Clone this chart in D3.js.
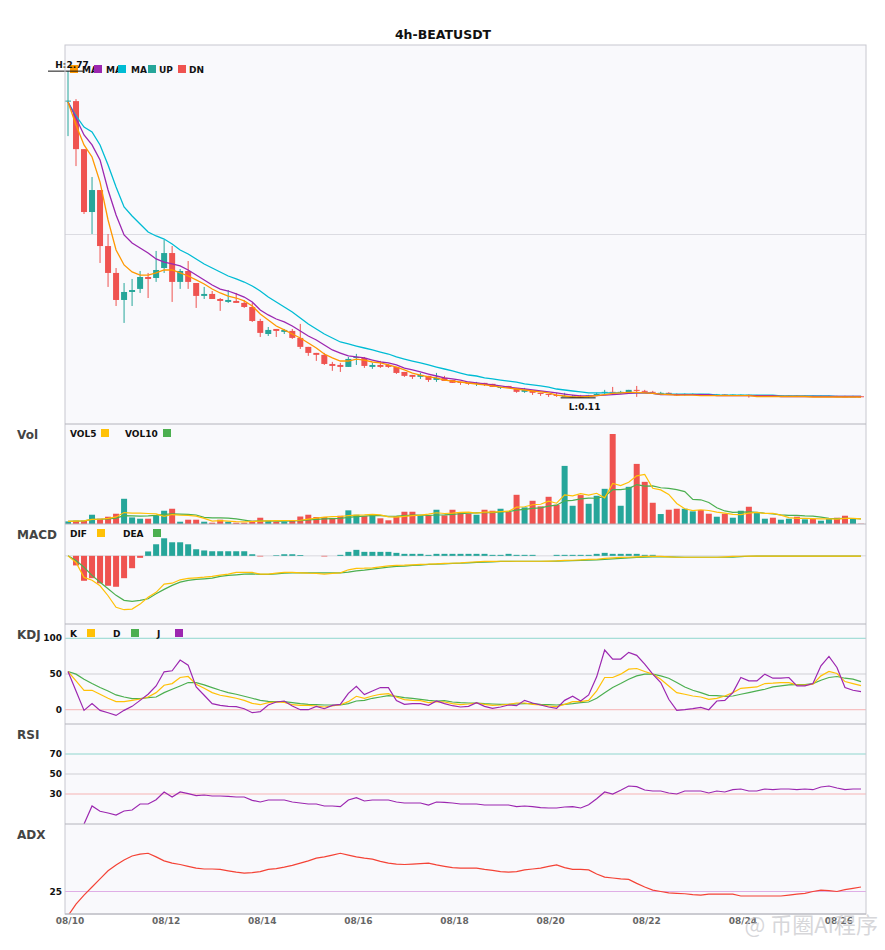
<!DOCTYPE html>
<html>
<head>
<meta charset="utf-8">
<script src="https://cdn.jsdelivr.net/npm/d3@7"></script>
<style>
  body { margin: 0; background: #fff; }
  svg { display: block; font-family: "DejaVu Sans", sans-serif; }
</style>
</head>
<body>
<svg id="chart"></svg>
<script>
const title = '4h-BEATUSDT';
const dateTicks = ['08/10', '08/12', '08/14', '08/16', '08/18', '08/20', '08/22', '08/24', '08/26'];

// 4h candles
const open = [2.526,2.526,2.135,1.623,1.802,1.346,1.127,0.907,0.972,0.997,1.094,1.086,1.167,1.289,1.054,1.143,1.045,0.940,0.956,0.915,
  0.891,0.899,0.883,0.850,0.736,0.630,0.671,0.647,0.655,0.598,0.525,0.476,0.460,0.386,0.378,0.362,0.435,0.435,0.362,0.378,
  0.378,0.362,0.321,0.297,0.281,0.289,0.256,0.273,0.256,0.240,0.232,0.224,0.232,0.224,0.191,0.207,0.191,0.159,0.167,0.151,
  0.142,0.134,0.118,0.118,0.122,0.118,0.130,0.151,0.159,0.151,0.151,0.175,0.167,0.159,0.146,0.151,0.138,0.134,0.138,0.142,
  0.138,0.134,0.138,0.128,0.132,0.135,0.128,0.128,0.130,0.126,0.126,0.127,0.124,0.126,0.123,0.124,0.125,0.123,0.121,0.123];
const high = [2.770,2.542,2.135,1.908,1.802,1.444,1.167,1.045,1.078,1.143,1.127,1.306,1.395,1.346,1.159,1.224,1.045,1.013,0.980,0.923,
  0.988,0.964,0.907,0.883,0.753,0.687,0.671,0.671,0.671,0.712,0.525,0.476,0.476,0.403,0.395,0.443,0.468,0.443,0.395,0.411,
  0.386,0.362,0.321,0.297,0.313,0.289,0.313,0.289,0.256,0.240,0.232,0.240,0.232,0.224,0.199,0.207,0.191,0.191,0.167,0.151,
  0.142,0.151,0.151,0.134,0.134,0.134,0.151,0.175,0.199,0.167,0.175,0.207,0.175,0.167,0.159,0.155,0.146,0.146,0.146,0.142,
  0.142,0.142,0.140,0.138,0.138,0.138,0.134,0.132,0.132,0.130,0.130,0.130,0.129,0.128,0.128,0.128,0.127,0.127,0.127,0.126];
const low = [2.241,1.997,1.607,1.444,1.208,1.013,0.858,0.720,0.858,0.964,0.923,1.054,1.127,0.891,0.997,0.997,0.842,0.915,0.915,0.818,
  0.883,0.883,0.842,0.728,0.606,0.614,0.606,0.630,0.590,0.508,0.452,0.411,0.378,0.330,0.321,0.362,0.378,0.354,0.346,0.354,
  0.354,0.305,0.281,0.264,0.264,0.240,0.240,0.248,0.232,0.216,0.216,0.207,0.207,0.199,0.183,0.191,0.151,0.151,0.134,0.126,
  0.118,0.118,0.118,0.114,0.110,0.114,0.126,0.134,0.142,0.142,0.142,0.118,0.151,0.142,0.138,0.134,0.126,0.130,0.134,0.130,
  0.130,0.130,0.128,0.126,0.126,0.112,0.124,0.124,0.124,0.122,0.122,0.123,0.122,0.122,0.121,0.121,0.120,0.121,0.120,0.119];
const close = [2.530,2.135,1.623,1.802,1.346,1.127,0.907,0.972,0.988,1.094,1.078,1.151,1.289,1.054,1.143,1.054,0.940,0.956,0.915,0.899,
  0.907,0.883,0.850,0.736,0.639,0.663,0.655,0.663,0.598,0.525,0.476,0.460,0.386,0.370,0.362,0.427,0.443,0.370,0.378,0.362,
  0.362,0.313,0.289,0.281,0.297,0.256,0.273,0.248,0.232,0.232,0.224,0.232,0.216,0.199,0.199,0.191,0.159,0.175,0.151,0.142,
  0.134,0.126,0.126,0.122,0.116,0.130,0.142,0.159,0.151,0.159,0.175,0.167,0.159,0.151,0.151,0.138,0.134,0.142,0.142,0.136,
  0.134,0.138,0.132,0.136,0.135,0.128,0.130,0.130,0.127,0.128,0.127,0.125,0.126,0.124,0.125,0.125,0.123,0.122,0.123,0.121];
const volume = [0.26,0.33,0.33,0.93,0.53,0.73,1.03,2.53,0.66,0.53,0.53,0.83,1.33,1.53,0.23,0.43,0.43,0.23,0.13,0.43,
  0.23,0.13,0.13,0.33,0.63,0.33,0.23,0.23,0.33,0.75,0.93,0.70,0.70,0.60,0.83,1.37,0.93,0.80,0.90,0.57,
  0.37,0.77,1.23,1.23,0.87,0.87,1.43,0.87,1.43,1.20,1.03,0.93,1.43,1.33,1.53,1.20,2.93,1.67,2.33,1.77,
  2.73,1.93,5.83,1.83,2.90,2.03,2.83,3.53,9.03,1.83,3.73,6.03,4.23,2.13,1.00,1.43,1.53,1.53,1.27,1.40,
  1.03,0.73,1.03,0.63,1.33,1.73,1.10,0.53,0.63,0.43,0.53,0.73,0.47,0.50,0.33,0.53,0.63,0.83,0.53,0.03];

// moving average lines (orange, purple, cyan)
const maFast = [2.519,2.332,2.169,2.071,1.867,1.558,1.314,1.192,1.135,1.110,1.110,1.127,1.151,1.151,1.127,1.102,1.070,1.037,0.996,0.964,
  0.939,0.923,0.899,0.858,0.793,0.744,0.695,0.663,0.630,0.597,0.557,0.516,0.467,0.435,0.410,0.410,0.426,0.418,0.402,0.394,
  0.378,0.361,0.337,0.312,0.296,0.280,0.272,0.255,0.247,0.239,0.231,0.223,0.215,0.207,0.198,0.190,0.182,0.174,0.166,0.158,
  0.150,0.133,0.125,0.117,0.117,0.121,0.129,0.137,0.146,0.150,0.154,0.154,0.150,0.146,0.141,0.137,0.133,0.133,0.133,0.129,
  0.129,0.129,0.129,0.129,0.129,0.129,0.121,0.121,0.121,0.121,0.121,0.121,0.121,0.117,0.117,0.117,0.117,0.117,0.117,0.117];
const maMid = [2.519,2.389,2.250,2.169,2.047,1.802,1.599,1.436,1.371,1.330,1.289,1.241,1.216,1.200,1.184,1.151,1.110,1.070,1.029,0.996,
  0.980,0.956,0.931,0.891,0.825,0.785,0.752,0.728,0.695,0.654,0.614,0.581,0.540,0.500,0.475,0.451,0.443,0.435,0.418,0.402,
  0.394,0.378,0.353,0.337,0.321,0.304,0.288,0.272,0.264,0.255,0.239,0.231,0.223,0.215,0.207,0.198,0.190,0.182,0.174,0.166,
  0.158,0.150,0.141,0.133,0.125,0.125,0.129,0.133,0.137,0.141,0.146,0.150,0.150,0.146,0.137,0.137,0.137,0.137,0.137,0.137,
  0.137,0.129,0.129,0.129,0.129,0.129,0.129,0.129,0.129,0.121,0.121,0.121,0.121,0.121,0.121,0.121,0.121,0.121,0.121,0.121];
const maSlow = [2.519,2.405,2.315,2.275,2.169,2.006,1.827,1.664,1.591,1.526,1.460,1.428,1.403,1.363,1.314,1.281,1.241,1.200,1.167,1.135,
  1.102,1.078,1.053,1.021,0.980,0.931,0.891,0.850,0.809,0.760,0.711,0.671,0.630,0.597,0.565,0.549,0.532,0.516,0.500,0.483,
  0.467,0.443,0.426,0.410,0.394,0.378,0.361,0.345,0.329,0.312,0.296,0.288,0.272,0.264,0.255,0.247,0.239,0.223,0.215,0.207,
  0.198,0.182,0.174,0.166,0.158,0.150,0.150,0.150,0.150,0.150,0.150,0.150,0.150,0.146,0.141,0.141,0.141,0.141,0.141,0.141,
  0.141,0.133,0.133,0.133,0.133,0.133,0.133,0.133,0.133,0.125,0.125,0.125,0.125,0.125,0.125,0.125,0.121,0.121,0.121,0.121];

// indicator series
const dif = [0,-0.033,-0.108,-0.122,-0.150,-0.200,-0.258,-0.270,-0.267,-0.242,-0.208,-0.183,-0.142,-0.137,-0.120,-0.113,-0.110,-0.107,-0.103,-0.097,
  -0.092,-0.083,-0.083,-0.083,-0.092,-0.092,-0.087,-0.083,-0.083,-0.085,-0.087,-0.088,-0.092,-0.088,-0.085,-0.070,-0.063,-0.062,-0.060,-0.055,
  -0.050,-0.048,-0.047,-0.045,-0.043,-0.042,-0.040,-0.038,-0.037,-0.035,-0.032,-0.030,-0.028,-0.028,-0.027,-0.027,-0.027,-0.027,-0.027,-0.027,
  -0.026,-0.025,-0.023,-0.022,-0.020,-0.018,-0.017,-0.013,-0.010,-0.008,-0.007,-0.005,-0.003,-0.002,-0.003,-0.005,-0.007,-0.007,-0.007,-0.007,
  -0.007,-0.007,-0.005,-0.003,-0.002,-0.001,-0.001,-0.001,-0.001,-0.001,-0.001,-0.001,-0.001,-0.001,-0.001,-0.001,-0.001,-0.001,-0.001,-0.001];
const dea = [0,-0.023,-0.057,-0.098,-0.132,-0.165,-0.198,-0.223,-0.228,-0.223,-0.215,-0.190,-0.168,-0.148,-0.132,-0.123,-0.118,-0.115,-0.112,-0.103,
  -0.098,-0.095,-0.092,-0.090,-0.093,-0.093,-0.090,-0.087,-0.085,-0.085,-0.085,-0.085,-0.085,-0.085,-0.085,-0.082,-0.075,-0.072,-0.067,-0.062,
  -0.057,-0.053,-0.052,-0.048,-0.047,-0.043,-0.042,-0.040,-0.038,-0.037,-0.035,-0.033,-0.032,-0.030,-0.028,-0.028,-0.027,-0.027,-0.027,-0.027,
  -0.027,-0.026,-0.025,-0.024,-0.023,-0.021,-0.020,-0.018,-0.015,-0.013,-0.010,-0.008,-0.007,-0.005,-0.005,-0.005,-0.006,-0.007,-0.007,-0.007,
  -0.007,-0.007,-0.007,-0.007,-0.004,-0.002,-0.001,-0.001,-0.001,-0.001,-0.001,-0.001,-0.001,-0.001,-0.001,-0.001,-0.001,-0.001,-0.001,-0.001];
const macdHist = [0,-0.048,-0.125,-0.112,-0.138,-0.150,-0.155,-0.112,-0.062,-0.010,0.022,0.058,0.088,0.068,0.068,0.058,0.033,0.027,0.023,0.023,
  0.023,0.023,0.023,0.008,-0.003,0,0.003,0.008,0.008,0.004,0,0,-0.003,0,0.005,0.020,0.030,0.020,0.020,0.020,
  0.020,0.015,0.010,0.010,0.010,0.005,0.010,0.010,0.010,0.010,0.010,0.010,0.010,0.005,0.005,0.010,0.005,0.005,0.005,0,
  0,0.005,0.005,0.005,0.005,0.005,0.010,0.015,0.010,0.010,0.010,0.010,0.005,0.005,0,0,0,0,0,0,
  0,0,0,0,0,0,0,0,0,0,0,0,0,0,0,0,0,0,0,0];
const kLine = [53.5,40.4,27.2,27.2,21.6,16.0,11.3,11.3,13.1,15.0,17.8,23.9,34.3,36.6,45.1,46.5,35.7,30.0,23.9,20.2,
  18.3,16.0,13.1,8.9,7.0,9.9,10.8,10.3,7.0,6.1,6.1,5.2,3.8,5.2,7.0,11.3,18.8,16.0,19.2,21.6,
  22.5,17.8,14.1,13.1,12.7,9.9,11.3,10.8,8.5,7.0,8.0,9.4,7.5,6.1,6.6,7.5,9.4,9.4,7.5,6.6,
  5.2,4.2,7.5,11.3,11.3,13.1,26.3,45.1,45.1,49.8,56.8,57.7,53.5,49.8,42.7,33.3,23.9,21.6,19.2,17.8,
  14.6,16.0,19.2,23.9,30.0,31.0,31.9,36.6,37.1,38.0,38.0,34.7,34.3,35.7,47.4,53.5,50.7,39.4,36.6,33.8];
const dLine = [53.5,49.8,42.7,36.6,31.0,26.3,20.7,17.8,15.5,15.5,16.9,17.8,23.9,28.6,33.3,38.0,38.0,34.7,31.0,27.2,
  23.9,21.6,18.8,16.0,13.1,11.7,11.3,11.3,9.9,8.5,7.5,7.0,6.6,6.6,6.6,8.5,12.2,13.1,16.0,17.8,
  19.7,18.8,16.9,16.0,14.6,13.1,12.2,12.7,10.8,9.9,9.4,9.4,8.5,8.0,7.5,7.5,8.0,8.5,8.5,7.5,
  7.0,6.6,7.5,8.5,9.9,10.8,16.0,23.9,31.0,36.6,42.7,47.4,49.8,49.8,47.4,44.1,38.0,31.9,27.2,23.9,
  20.2,19.7,18.8,19.2,21.6,23.9,26.3,28.6,31.9,33.3,34.7,35.2,35.2,36.6,41.3,45.1,46.5,44.1,42.7,39.4];
const jLine = [53.5,26.3,-0.9,8.5,-0.9,-4.2,-8.0,-0.9,4.7,13.1,21.6,33.3,53.1,54.5,69.5,62.4,31.9,20.2,8.5,6.1,
  4.7,4.2,1.4,-4.2,-2.8,6.6,10.8,12.2,5.2,0,0,4.7,1.4,6.1,7.5,23.0,32.9,21.1,26.3,31.0,
  31.0,12.7,7.5,8.5,8.5,6.1,12.2,8.5,5.6,3.8,4.7,9.9,4.7,1.9,3.8,6.6,5.6,13.1,9.4,6.6,
  3.8,1.9,13.1,18.8,12.2,20.7,46.0,83.6,70.9,70.9,80.3,76.1,63.8,49.8,38.0,14.6,-0.9,0,1.4,3.3,
  0,12.2,13.1,23.9,45.1,40.4,40.4,49.8,44.1,44.1,45.1,33.3,33.3,36.6,61.5,74.6,59.2,31.0,27.2,25.4];
const rsi = [null,null,0,18.0,12.7,11.0,9.0,13.0,14.0,20.0,20.0,24.3,32.0,27.0,32.0,30.3,28.3,29.0,28.0,28.0,
  27.7,27.0,27.0,23.7,22.0,24.0,24.0,24.0,22.0,21.0,20.0,20.0,18.0,18.0,17.3,24.0,26.3,23.0,24.0,24.0,
  24.0,22.0,21.0,21.0,21.0,19.0,22.0,21.7,21.0,20.0,20.0,20.0,19.0,19.0,19.0,19.0,17.3,18.0,17.3,16.3,
  16.0,16.0,17.0,17.3,16.0,19.3,25.3,32.0,30.0,33.7,38.0,37.3,34.0,33.0,33.0,31.0,30.0,33.0,33.0,33.0,
  31.0,33.0,32.0,34.3,35.0,33.0,33.0,35.0,34.3,35.0,35.0,34.3,35.0,34.3,37.0,38.0,36.0,34.3,35.0,35.0];
const adx = [19.6,22.2,24.2,26.0,27.8,29.6,30.9,32.0,32.9,33.3,33.5,32.7,31.8,31.3,31.0,30.6,30.2,30.0,30.0,29.9,
  29.6,29.3,29.1,29.2,29.4,29.9,30.1,30.4,30.8,31.3,31.8,32.4,32.7,33.1,33.5,33.1,32.7,32.4,32.2,31.7,
  31.3,31.1,31.0,31.1,31.2,31.3,30.9,30.6,30.3,30.2,30.2,30.2,29.9,29.7,29.4,29.3,29.4,29.8,30.0,30.2,
  30.6,30.9,30.3,29.9,29.9,29.8,28.9,28.2,28.0,27.8,27.7,26.8,26.0,25.3,25.0,24.7,24.6,24.5,24.3,24.2,
  24.4,24.4,24.4,24.4,24.0,24.0,24.0,24.0,24.0,24.0,24.2,24.4,24.6,25.0,25.3,25.2,25.0,25.4,25.7,26.0];

const W = 885, H = 950;
const left = 65, right = 866;
const UP = '#26a69a', DN = '#ef5350';

// simple moving average for the volume lines, partial window at the start
const sma = (arr, n) => arr.map((_, i) => d3.mean(arr.slice(Math.max(0, i - n + 1), i + 1)));

const svg = d3.select('#chart').attr('width', W).attr('height', H);

const x = d3.scaleBand().domain(d3.range(close.length)).range([64, 865]);
const cx = i => x(i) + x.bandwidth() / 2;
const barW = 6;
const isUp = i => close[i] >= open[i];

let clipId = 0;
const panel = (top, bottom, label) => {
  svg.append('rect')
    .attr('x', left).attr('y', top)
    .attr('width', right - left).attr('height', bottom - top)
    .attr('fill', '#f9f9fc');
  const id = 'clip' + (clipId++);
  svg.append('clipPath').attr('id', id)
    .append('rect').attr('x', left).attr('y', top)
    .attr('width', right - left).attr('height', bottom - top);
  if (label) {
    svg.append('text').attr('x', 17).attr('y', top + 15)
      .attr('font-size', 12).attr('font-weight', 'bold').attr('fill', '#444')
      .text(label);
  }
  return svg.append('g').attr('clip-path', `url(#${id})`);
};

const legend = (g, items, y) => {
  items.forEach(it => {
    if (it.color) {
      g.append('rect').attr('x', it.sq).attr('y', y - 8).attr('width', 8).attr('height', 8).attr('fill', it.color);
    }
    if (it.text) {
      g.append('text').attr('x', it.tx).attr('y', y).attr('font-size', 9)
        .attr('font-weight', 'bold').attr('fill', '#111').text(it.text);
    }
  });
};

const drawLine = (g, values, y, color, w = 1.2) => {
  g.append('path')
    .datum(values.map((v, i) => [i, v]))
    .attr('fill', 'none').attr('stroke', color).attr('stroke-width', w)
    .attr('d', d3.line().defined(d => d[1] != null).x(d => cx(d[0])).y(d => y(d[1])));
};

const hLine = (g, y, color) => {
  g.append('line').attr('x1', left).attr('x2', right).attr('y1', y).attr('y2', y)
    .attr('stroke', color).attr('stroke-width', 1);
};

const tickLabel = (y, txt) => {
  svg.append('text').attr('x', 62).attr('y', y).attr('dy', '0.35em')
    .attr('text-anchor', 'end').attr('font-size', 9).attr('font-weight', 'bold')
    .attr('fill', '#111').text(txt);
};

// title
svg.append('text').attr('x', 443).attr('y', 39).attr('text-anchor', 'middle')
  .attr('font-size', 12.5).attr('font-weight', 'bold').attr('fill', '#111').text(title);

// ---------- price ----------
const hiMax = d3.max(high), loMin = d3.min(low);
const pad = (hiMax - loMin) * 0.08;
const yP = d3.scaleLinear().domain([loMin - pad, hiMax + pad]).range([424, 45]);
const gP = panel(45, 424);
hLine(gP, 234.5, '#dcdce2');

const candles = gP.selectAll('g.c').data(d3.range(close.length)).enter().append('g');
candles.append('line')
  .attr('x1', cx).attr('x2', cx)
  .attr('y1', i => yP(high[i])).attr('y2', i => yP(low[i]))
  .attr('stroke', i => isUp(i) ? UP : DN).attr('stroke-width', 1);
candles.append('rect')
  .attr('x', i => cx(i) - barW / 2).attr('width', barW)
  .attr('y', i => yP(Math.max(open[i], close[i])))
  .attr('height', i => Math.max(1, Math.abs(yP(open[i]) - yP(close[i]))))
  .attr('fill', i => isUp(i) ? UP : DN);

const maColors = ['#ff9800', '#9c27b0', '#00bcd4'];
drawLine(gP, maSlow, yP, maColors[2], 1.3);
drawLine(gP, maMid, yP, maColors[1], 1.3);
drawLine(gP, maFast, yP, maColors[0], 1.3);

legend(svg, [
  { sq: 70, color: maColors[0], tx: 82, text: 'MA' },
  { sq: 94, color: maColors[1], tx: 106, text: 'MA' },
  { sq: 118, color: maColors[2], tx: 131, text: 'MA' },
  { sq: 148, color: UP, tx: 159, text: 'UP' },
  { sq: 178, color: DN, tx: 189, text: 'DN' }
], 73);

// high / low markers
const iHi = high.indexOf(hiMax), iLo = low.indexOf(loMin);
const fmt = d3.format('.2f');
svg.append('line').attr('x1', cx(iHi) - 20).attr('x2', cx(iHi) + 15)
  .attr('y1', yP(hiMax)).attr('y2', yP(hiMax)).attr('stroke', '#111');
svg.append('text').attr('x', cx(iHi) + 4).attr('y', yP(hiMax) - 3).attr('text-anchor', 'middle')
  .attr('font-size', 9).attr('font-weight', 'bold').attr('fill', '#111').text('H:' + fmt(hiMax));
svg.append('line').attr('x1', cx(iLo) - 20).attr('x2', cx(iLo) + 15)
  .attr('y1', yP(loMin)).attr('y2', yP(loMin)).attr('stroke', '#111');
svg.append('text').attr('x', cx(iLo) + 4).attr('y', yP(loMin) + 12).attr('text-anchor', 'middle')
  .attr('font-size', 9).attr('font-weight', 'bold').attr('fill', '#111').text('L:' + fmt(loMin));

// ---------- volume ----------
const yV = d3.scaleLinear().domain([0, d3.max(volume) / 0.9]).range([524, 424]);
const gV = panel(424, 524, 'Vol');
gV.selectAll('rect.v').data(volume).enter().append('rect')
  .attr('x', (d, i) => cx(i) - barW / 2).attr('width', barW)
  .attr('y', d => yV(d)).attr('height', d => yV(0) - yV(d))
  .attr('fill', (d, i) => isUp(i) ? UP : DN);
drawLine(gV, sma(volume, 10), yV, '#4caf50', 1.2);
drawLine(gV, sma(volume, 5), yV, '#ffc107', 1.2);
legend(svg, [
  { tx: 70, text: 'VOL5', sq: 101, color: '#ffc107' },
  { tx: 125, text: 'VOL10', sq: 163, color: '#4caf50' }
], 437);

// ---------- MACD ----------
const mMin = d3.min(dif), mMax = d3.max(macdHist);
const mPad = (mMax - mMin) * 0.2;
const yM = d3.scaleLinear().domain([mMin - mPad, mMax + mPad]).range([624, 524]);
const gM = panel(524, 624, 'MACD');
hLine(gM, yM(0), '#d8d8de');
gM.selectAll('rect.m').data(macdHist).enter().append('rect')
  .attr('x', (d, i) => cx(i) - barW / 2).attr('width', barW)
  .attr('y', d => yM(Math.max(0, d))).attr('height', d => Math.abs(yM(d) - yM(0)))
  .attr('fill', d => d >= 0 ? UP : DN);
drawLine(gM, dea, yM, '#4caf50', 1.2);
drawLine(gM, dif, yM, '#ffc107', 1.2);
legend(svg, [
  { tx: 70, text: 'DIF', sq: 97, color: '#ffc107' },
  { tx: 123, text: 'DEA', sq: 153, color: '#4caf50' }
], 537);

// ---------- KDJ ----------
const yK = d3.scaleLinear().domain([-20, 120]).range([724, 624]);
const gK = panel(624, 724, 'KDJ');
hLine(gK, yK(100), '#8fd6ce');
hLine(gK, yK(50), '#cfcfd4');
hLine(gK, yK(0), '#f6b3b3');
drawLine(gK, dLine, yK, '#4caf50', 1.2);
drawLine(gK, kLine, yK, '#ffc107', 1.2);
drawLine(gK, jLine, yK, '#9c27b0', 1.2);
[100, 50, 0].forEach(v => tickLabel(yK(v), v));
legend(svg, [
  { tx: 70, text: 'K', sq: 87, color: '#ffc107' },
  { tx: 113, text: 'D', sq: 131, color: '#4caf50' },
  { tx: 157, text: 'J', sq: 175, color: '#9c27b0' }
], 637);

// ---------- RSI ----------
const yR = d3.scaleLinear().domain([0, 100]).range([824, 724]);
const gR = panel(724, 824, 'RSI');
hLine(gR, yR(70), '#8fd6ce');
hLine(gR, yR(50), '#cfcfd4');
hLine(gR, yR(30), '#f6b3b3');
drawLine(gR, rsi, yR, '#9c27b0', 1.2);
[70, 50, 30].forEach(v => tickLabel(yR(v), v));

// ---------- ADX ----------
const yA = d3.scaleLinear().domain([20, 40]).range([914, 824]);
const gA = panel(824, 914, 'ADX');
hLine(gA, yA(25), '#dfaee6');
drawLine(gA, adx, yA, '#f44336', 1.2);
tickLabel(yA(25), 25);

// borders
svg.append('rect').attr('x', left).attr('y', 45).attr('width', right - left).attr('height', 869)
  .attr('fill', 'none').attr('stroke', '#c8c8d0');
[424, 524, 624, 724, 824, 914].forEach(y => {
  svg.append('line').attr('x1', left).attr('x2', right).attr('y1', y).attr('y2', y)
    .attr('stroke', '#b4b4bc');
});

// x axis labels, one every 12 candles (2 days)
dateTicks.forEach((t, k) => {
  svg.append('text').attr('x', cx(k * 12) + 2).attr('y', 924).attr('text-anchor', 'middle')
    .attr('font-size', 9).attr('font-weight', 'bold').attr('fill', '#666').text(t);
});

// watermark
svg.append('text').attr('x', 878).attr('y', 933).attr('text-anchor', 'end')
  .attr('font-family', '"Noto Sans CJK SC", sans-serif').attr('font-size', 22)
  .attr('fill', '#d0d0d4').attr('fill-opacity', 0.85).text('@ 币圈AI程序');
</script>
</body>
</html>
